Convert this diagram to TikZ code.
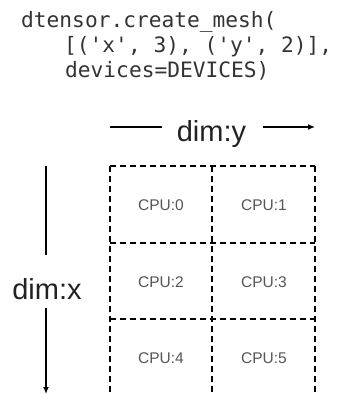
\documentclass[tikz,border=0pt]{standalone}
\usepackage{fontspec}
\setmainfont{Liberation Sans}
\newfontfamily\codefont{DejaVu Sans Mono}
\usetikzlibrary{arrows.meta}
\definecolor{codegray}{HTML}{333333}
\definecolor{labelgray}{HTML}{555555}
\definecolor{inkblack}{HTML}{222222}
\tikzset{
  codeline/.style={anchor=base west, inner sep=0pt, text=codegray,
    font=\codefont\fontsize{21.2}{25}\selectfont},
  dimlabel/.style={inner sep=0pt, text=inkblack,
    font=\fontsize{29}{34}\selectfont},
  cpulabel/.style={inner sep=0pt, text=labelgray,
    font=\fontsize{15.5}{18}\selectfont},
  gridline/.style={draw=black, line width=1.2pt, dash pattern=on 6pt off 4pt},
  axisline/.style={draw=black, line width=1.3pt},
  axisarrow/.style={axisline, -{Latex[length=7pt,width=6pt]}}
}
\begin{document}
\begin{tikzpicture}[x=1pt, y=-1pt]
  \useasboundingbox (0,0) rectangle (339,394);

  % mesh creation call
  \node[codeline] (code1) at (21,27) {dtensor.create\_mesh(};
  \node[codeline] (code2) at (64,52) {[('x', 3), ('y', 2)],};
  \node[codeline] (code3) at (65,77) {devices=DEVICES)};

  % horizontal mesh axis
  \node[dimlabel, anchor=base] (dimy) at (211.5,141.5) {dim:y};
  \coordinate (ya) at (110,127);
  \coordinate (yb) at (162,127);
  \coordinate (yc) at (263,127);
  \coordinate (yd) at (315,127);
  \draw[axisline] (ya) -- (yb);
  \draw[axisarrow] (yc) -- (yd);

  % vertical mesh axis
  \node[dimlabel, anchor=base] (dimx) at (47,299) {dim:x};
  \coordinate (xa) at (46,166);
  \coordinate (xb) at (46,255);
  \coordinate (xc) at (46,308);
  \coordinate (xd) at (46,394);
  \draw[axisline] (xa) -- (xb);
  \draw[axisarrow] (xc) -- (xd);

  % device grid
  \draw[gridline] (110,166) -- (315,166);
  \draw[gridline] (110,243) -- (315,243);
  \draw[gridline] (110,319) -- (315,319);
  \draw[gridline] (110,166) -- (110,396);
  \draw[gridline] (212,166) -- (212,396);
  \draw[gridline] (315,166) -- (315,396);

  \node[cpulabel] (cpu0) at (161,205.5) {CPU:0};
  \node[cpulabel] (cpu1) at (264,205.5) {CPU:1};
  \node[cpulabel] (cpu2) at (161,282) {CPU:2};
  \node[cpulabel] (cpu3) at (264,282) {CPU:3};
  \node[cpulabel] (cpu4) at (161,358) {CPU:4};
  \node[cpulabel] (cpu5) at (264,358) {CPU:5};
\end{tikzpicture}
\end{document}
